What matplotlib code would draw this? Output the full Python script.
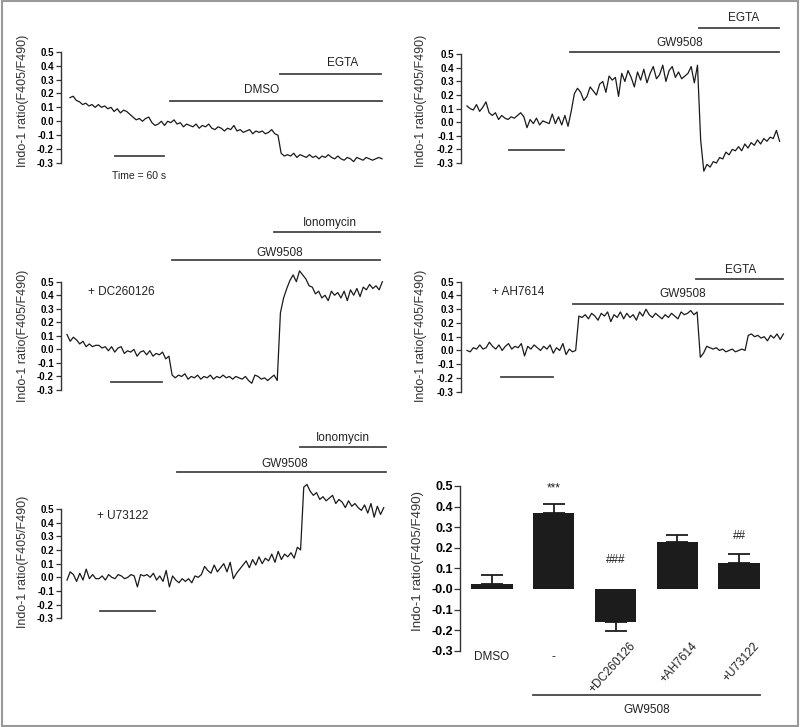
import numpy as np
import matplotlib
matplotlib.use("Agg")
import matplotlib.pyplot as plt
from matplotlib.patches import Rectangle

plt.rcParams["font.family"] = ["Liberation Sans", "DejaVu Sans"]
plt.rcParams["axes.unicode_minus"] = False

# ---- traces: Indo-1 ratio (F405/F490), 100 evenly spaced samples each ----
DMSO_TRACE = [
    0.17, 0.18, 0.15, 0.14, 0.12, 0.13, 0.11, 0.12, 0.10, 0.12,
    0.10, 0.11, 0.09, 0.10, 0.07, 0.09, 0.06, 0.08, 0.07, 0.05,
    0.03, 0.01, 0.02, 0.00, 0.02, 0.03, -0.01, -0.03, -0.02, 0.00,
    -0.03, 0.00, -0.01, 0.01, -0.02, -0.01, -0.04, -0.02, -0.03, -0.04,
    -0.02, -0.05, -0.03, -0.04, -0.02, -0.05, -0.06, -0.04, -0.05, -0.07,
    -0.05, -0.06, -0.03, -0.07, -0.06, -0.08, -0.07, -0.06, -0.09, -0.07,
    -0.08, -0.07, -0.09, -0.08, -0.06, -0.09, -0.10, -0.23, -0.25, -0.24,
    -0.25, -0.23, -0.26, -0.24, -0.25, -0.26, -0.24, -0.26, -0.25, -0.27,
    -0.25, -0.26, -0.24, -0.26, -0.27, -0.25, -0.27, -0.28, -0.26, -0.27,
    -0.29, -0.26, -0.27, -0.28, -0.26, -0.27, -0.28, -0.27, -0.26, -0.27,
]
GW_TRACE = [
    0.12, 0.10, 0.09, 0.13, 0.08, 0.11, 0.15, 0.07, 0.05, 0.07,
    0.02, 0.05, 0.03, 0.02, 0.04, 0.03, 0.05, 0.07, 0.04, -0.04,
    0.02, -0.01, 0.03, -0.02, 0.01, 0.00, -0.01, 0.06, -0.01, 0.04,
    -0.02, 0.05, -0.03, 0.08, 0.21, 0.25, 0.22, 0.16, 0.19, 0.26,
    0.23, 0.20, 0.28, 0.30, 0.22, 0.34, 0.31, 0.33, 0.19, 0.36,
    0.30, 0.38, 0.33, 0.26, 0.37, 0.31, 0.39, 0.29, 0.36, 0.41,
    0.32, 0.35, 0.42, 0.30, 0.38, 0.41, 0.33, 0.37, 0.32, 0.34,
    0.36, 0.41, 0.29, 0.42, -0.13, -0.36, -0.31, -0.33, -0.29, -0.30,
    -0.26, -0.27, -0.22, -0.24, -0.20, -0.21, -0.18, -0.21, -0.16, -0.19,
    -0.15, -0.17, -0.13, -0.16, -0.12, -0.14, -0.11, -0.12, -0.06, -0.14,
]
DC_TRACE = [
    0.11, 0.06, 0.09, 0.07, 0.04, 0.06, 0.02, 0.04, 0.02, 0.03,
    0.03, 0.01, 0.02, -0.01, 0.02, -0.02, 0.01, 0.02, -0.03, -0.01,
    -0.02, 0.00, -0.05, -0.02, -0.01, -0.04, -0.01, -0.05, -0.03, -0.04,
    -0.02, -0.07, -0.05, -0.19, -0.21, -0.19, -0.20, -0.18, -0.22, -0.20,
    -0.21, -0.19, -0.22, -0.20, -0.21, -0.19, -0.22, -0.20, -0.21, -0.19,
    -0.21, -0.20, -0.22, -0.20, -0.21, -0.22, -0.20, -0.23, -0.25, -0.19,
    -0.20, -0.22, -0.21, -0.23, -0.21, -0.19, -0.23, 0.27, 0.38, 0.45,
    0.51, 0.55, 0.50, 0.58, 0.55, 0.52, 0.47, 0.46, 0.41, 0.43,
    0.38, 0.40, 0.36, 0.43, 0.40, 0.42, 0.38, 0.43, 0.36, 0.44,
    0.40, 0.45, 0.39, 0.46, 0.44, 0.48, 0.45, 0.47, 0.44, 0.50,
]
AH_TRACE = [
    0.00, -0.01, 0.02, 0.01, 0.04, 0.01, 0.02, 0.06, 0.03, 0.01,
    0.04, 0.00, 0.03, 0.05, 0.01, 0.03, 0.02, 0.05, -0.04, 0.03,
    0.01, 0.04, 0.02, 0.00, 0.03, 0.01, 0.04, -0.02, 0.02, 0.00,
    0.05, -0.03, 0.01, -0.01, 0.00, 0.25, 0.24, 0.26, 0.23, 0.27,
    0.25, 0.22, 0.27, 0.25, 0.28, 0.21, 0.26, 0.24, 0.28, 0.23,
    0.27, 0.24, 0.26, 0.22, 0.28, 0.25, 0.30, 0.26, 0.24, 0.27,
    0.25, 0.23, 0.26, 0.24, 0.27, 0.25, 0.23, 0.28, 0.26, 0.27,
    0.29, 0.26, 0.28, -0.05, -0.02, 0.03, 0.02, 0.01, 0.02, 0.00,
    0.01, -0.01, 0.00, 0.01, -0.01, 0.00, 0.01, 0.00, 0.11, 0.12,
    0.10, 0.11, 0.09, 0.10, 0.07, 0.11, 0.09, 0.12, 0.08, 0.12,
]
U7_TRACE = [
    -0.02, 0.04, 0.02, -0.03, 0.03, -0.02, 0.06, -0.01, 0.02, -0.01,
    -0.01, 0.01, -0.02, 0.02, 0.00, -0.01, 0.02, 0.01, -0.01, 0.00,
    0.02, 0.01, -0.07, 0.02, 0.01, 0.02, 0.00, 0.03, -0.02, 0.01,
    -0.03, 0.05, -0.07, 0.01, -0.02, -0.04, -0.01, -0.03, -0.01, -0.04,
    0.01, 0.00, 0.02, 0.08, 0.05, 0.03, 0.09, 0.04, 0.07, 0.10,
    0.04, 0.11, -0.01, 0.03, 0.06, 0.09, 0.12, 0.07, 0.13, 0.09,
    0.15, 0.10, 0.14, 0.12, 0.17, 0.11, 0.19, 0.13, 0.17, 0.15,
    0.18, 0.14, 0.22, 0.20, 0.66, 0.68, 0.63, 0.60, 0.62, 0.57,
    0.59, 0.56, 0.58, 0.60, 0.54, 0.57, 0.55, 0.51, 0.56, 0.52,
    0.54, 0.51, 0.49, 0.53, 0.47, 0.54, 0.44, 0.52, 0.46, 0.51,
]
# recording length of each trace, seconds
DURATIONS = [382, 341, 371, 363, 350]

# ---- summary bars ----
BAR_LABELS = ["DMSO", "-", "+DC260126", "+AH7614", "+U73122"]
BAR_MEANS = [0.024, 0.370, -0.162, 0.230, 0.128]
BAR_SEM = [0.044, 0.041, 0.041, 0.032, 0.043]
BAR_MARKS = ["", "***", "###", "", "##"]

W, H = 800, 727
fig = plt.figure(figsize=(W / 100, H / 100), dpi=100)

TICKS = [-0.3, -0.2, -0.1, 0.0, 0.1, 0.2, 0.3, 0.4, 0.5]
LINE_C = "#454545"
YLABEL = "Indo-1 ratio(F405/F490)"

# layout (pixels) + treatment bars: (label, start s, end s, line level, label x s, label level)
PANELS = [
    dict(trace=DMSO_TRACE, dur=DURATIONS[0], spine=61, x0=70, pxs=49 / 60, y05=51.7, ym03=163,
         treat=[("DMSO", 122, 382, 0.146, 235, 0.225), ("EGTA", 257, 381, 0.34, 334, 0.42)],
         scale=(55, -0.248), note=None, ylab=(23, 101)),
    dict(trace=GW_TRACE, dur=DURATIONS[1], spine=461, x0=467, pxs=55 / 60, y05=54.3, ym03=163,
         treat=[("GW9508", 112, 340, 0.517, 232, 0.583), ("EGTA", 253, 340, 0.696, 302, 0.77)],
         scale=(46, -0.206), note=None, ylab=(421, 101)),
    dict(trace=DC_TRACE, dur=DURATIONS[2], spine=61, x0=67, pxs=51 / 60, y05=281.7, ym03=390,
         treat=[("GW9508", 123, 368, 0.66, 250, 0.714), ("Ionomycin", 243, 368, 0.869, 309, 0.936)],
         scale=(52, -0.243), note=("+ DC260126", 25, 0.426), ylab=(23, 336)),
    dict(trace=AH_TRACE, dur=DURATIONS[3], spine=461, x0=467, pxs=52.3 / 60, y05=281.7, ym03=391.7,
         treat=[("GW9508", 122, 363, 0.336, 247, 0.41), ("EGTA", 263, 363, 0.52, 314, 0.585)],
         scale=(39, -0.196), note=("+ AH7614", 29, 0.427), ylab=(421, 336)),
    dict(trace=U7_TRACE, dur=DURATIONS[4], spine=61, x0=67, pxs=54.3 / 60, y05=509, ym03=618.3,
         treat=[("GW9508", 122, 352, 0.768, 240, 0.829), ("Ionomycin", 258, 352, 0.951, 305, 1.02)],
         scale=(37, -0.25), note=("+ U73122", 33, 0.449), ylab=(23, 562)),
]


def style_left(ax, size, length, zero="0.0"):
    for side in ("top", "right", "bottom"):
        ax.spines[side].set_visible(False)
    ax.spines["left"].set_bounds(-0.3, 0.5)
    ax.spines["left"].set_color("#333333")
    ax.spines["left"].set_linewidth(1.0)
    ax.set_yticks(TICKS)
    labels = [zero if t == 0 else "%.1f" % t for t in TICKS]
    ax.set_yticklabels(labels, fontweight="bold", fontsize=size)
    ax.tick_params(axis="y", length=length, width=0.9, pad=1.5, color="#333333")
    ax.set_xticks([])
    ax.patch.set_visible(False)


for p in PANELS:
    k = (p["ym03"] - p["y05"]) / 0.8
    ytop, ybot = 1.1, -0.45
    top_px = p["y05"] - (ytop - 0.5) * k
    bot_px = p["ym03"] + (-0.3 - ybot) * k
    xl = -(p["x0"] - p["spine"]) / p["pxs"]
    xr = p["dur"] + 8
    right_px = p["x0"] + xr * p["pxs"]
    ax = fig.add_axes([p["spine"] / W, 1 - bot_px / H,
                       (right_px - p["spine"]) / W, (bot_px - top_px) / H])
    ax.set_xlim(xl, xr)
    ax.set_ylim(ybot, ytop)
    style_left(ax, 7, 3.6)

    y = np.array(p["trace"])
    t = np.linspace(0, p["dur"], len(y))
    ax.plot(t, y, color="#1a1a1a", lw=0.9)

    for label, t0, t1, lvl, lx, ly in p["treat"]:
        ax.plot([t0, t1], [lvl, lvl], color=LINE_C, lw=1.3, clip_on=False)
        ax.text(lx, ly, label, ha="center", va="center", fontsize=8.5, color="#222222")

    s0, slvl = p["scale"]
    ax.plot([s0, s0 + 60], [slvl, slvl], color=LINE_C, lw=1.3, clip_on=False)
    if p["note"]:
        txt, nx, ny = p["note"]
        ax.text(nx, ny, txt, ha="left", va="center", fontsize=8.5, color="#222222")

    fig.text(p["ylab"][0] / W, 1 - p["ylab"][1] / H, YLABEL, rotation=90,
             ha="center", va="center", fontsize=9, color="#333333")

# time scale note under the first panel
fig.axes[0].text(84, -0.394, "Time = 60 s", ha="center", va="center",
                 fontsize=7.5, color="#222222")

# ---- bar chart ----
spine, y05, ym03 = 460, 486, 650.7
step, c0 = 61.75, 492
right_px = 775
bx = fig.add_axes([spine / W, 1 - ym03 / H, (right_px - spine) / W, (ym03 - y05) / H])
bx.set_xlim(-(c0 - spine) / step, (right_px - c0) / step)
bx.set_ylim(-0.3, 0.5)
style_left(bx, 9, 4.3, zero="-0.0")
bx.tick_params(axis="y", pad=1)

x = np.arange(len(BAR_MEANS))
means = np.array(BAR_MEANS)
sem = np.array(BAR_SEM)
lower = np.where(means < 0, sem, 0)
upper = np.where(means >= 0, sem, 0)
bw = 0.67
bx.bar(x, means, width=bw, color="#1c1c1c", zorder=2)
bx.errorbar(x, means, yerr=[lower, upper], fmt="none", ecolor="#1c1c1c",
            elinewidth=1.3, capsize=8, capthick=1.3, zorder=1)

MARK_LEVEL = {"***": 0.49, "###": 0.14, "##": 0.257}
for i, mark in enumerate(BAR_MARKS):
    if mark:
        bx.text(i, MARK_LEVEL[mark], mark, ha="center", va="center",
                fontsize=8.5, color="#222222")

for i, lab in enumerate(BAR_LABELS):
    if lab.startswith("+"):
        bx.text(i + 0.37, -0.248, lab, rotation=48, ha="right", va="top",
                fontsize=8.5, color="#222222")
    else:
        bx.text(i, -0.33, lab, ha="center", va="center", fontsize=8.5, color="#222222")

bx.plot([1 - bw / 2, 4 + bw / 2], [-0.515, -0.515], color=LINE_C, lw=1.3, clip_on=False)
bx.text(2.5, -0.59, "GW9508", ha="center", va="center", fontsize=8.5, color="#222222")
fig.text(418 / W, 1 - 561 / H, YLABEL, rotation=90, ha="center", va="center",
         fontsize=9.5, color="#333333")

fig.add_artist(Rectangle((0.002, 0.002), 0.996, 0.996, transform=fig.transFigure,
                         fill=False, edgecolor="#999999", lw=1.5))

fig.savefig("out.png", dpi=100)
